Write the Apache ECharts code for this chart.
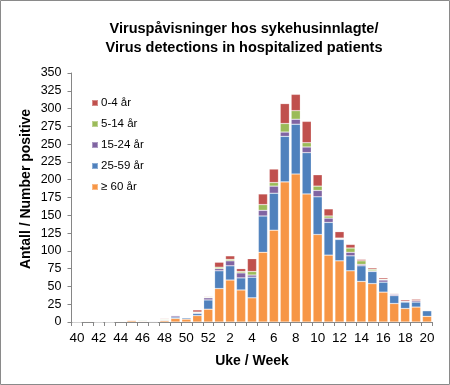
<!DOCTYPE html>
<html><head><meta charset="utf-8">
<script src="https://cdn.jsdelivr.net/npm/echarts@6/dist/echarts.min.js"></script>
<style>html,body{margin:0;padding:0;background:#fff}#c{width:450px;height:385px}</style>
</head><body><div id="c"></div>
<script>
const weeks = ['40','41','42','43','44','45','46','47','48','49','50','51','52','1','2','3','4','5','6','7','8','9','10','11','12','13','14','15','16','17','18','19','20'];
const age60plus = [0,1,0,0,1,2,1,0,2,5,4,9,18,47,59,45,34,98,129,197,208,180,123,94,86,72,57,54,42,26,19,21,8];
const age25_59  = [0,0,0,0,0,0,1,0,1,2,2,3,13,25,20,17,29,51,52,64,70,58,53,46,30,21,22,17,14,11,9,7,8];
const age15_24  = [0,0,0,0,0,0,0,1,0,2,0,1,3,3,7,7,3,8,10,6,7,8,9,6,1,5,2,1,3,2,1,2,0];
const age5_14   = [0,0,0,0,0,0,1,0,1,0,0,1,1,2,2,2,5,8,5,12,12,6,6,3,1,6,5,2,1,0,0,0,0];
const age0_4    = [0,0,0,0,0,1,0,0,1,0,0,3,1,7,5,4,18,15,19,28,23,30,16,10,9,5,2,2,2,1,2,2,0];
const seriesNames = ['≥ 60 år','25-59 år','15-24 år','5-14 år','0-4 år'];
const legendOrder = ['0-4 år','5-14 år','15-24 år','25-59 år','≥ 60 år'];
const colors = ['#F79646','#4F81BD','#8064A2','#9BBB59','#C0504D'];
const data = [age60plus, age25_59, age15_24, age5_14, age0_4];
const FF = 'Liberation Sans, Arial, sans-serif';

const chart = echarts.init(document.getElementById('c'));
chart.setOption({
  animation: false,
  textStyle: {fontFamily: FF},
  graphic: [
    {type:'rect', shape:{x:0.5,y:0.5,width:449,height:384}, style:{fill:'none', stroke:'#8a8a8a', lineWidth:1}, silent:true},
    {type:'text', x: 26, y: 189, rotation: Math.PI/2,
     style:{text:'Antall / Number positive', font:'bold 14px ' + FF, fill:'#000', textAlign:'center', textVerticalAlign:'middle'}, silent:true}
  ],
  title: {
    text: 'Viruspåvisninger hos sykehusinnlagte/\nVirus detections in hospitalized patients',
    left: 239, top: 14, textAlign: 'center',
    textStyle: {fontSize: 14.5, fontWeight: 'bold', color: '#000', lineHeight: 19, fontFamily: FF}
  },
  legend: {
    data: legendOrder, orient: 'vertical', left: 86, top: 91,
    icon: 'rect', itemWidth: 6, itemHeight: 6, itemGap: 7,
    textStyle: {fontSize: 11.5, color: '#000', lineHeight: 14, padding: [0,0,0,-2]}
  },
  grid: {left: 71.5, right: 17.5, top: 73, bottom: 63, containLabel: false},
  xAxis: {
    type: 'category', data: weeks,
    name: 'Uke / Week', nameLocation: 'middle', nameGap: 32,
    nameTextStyle: {fontSize: 14, fontWeight: 'bold', color: '#000'},
    axisLine: {lineStyle: {color: '#868686'}},
    axisTick: {show: true, interval: 0, length: 4, lineStyle: {color: '#868686'}},
    axisLabel: {interval: 1, fontSize: 13.5, color: '#000', margin: 9}
  },
  yAxis: {
    type: 'value', min: 0, max: 350, interval: 25,
    axisLine: {show: true, lineStyle: {color: '#868686'}},
    axisTick: {show: true, length: 4, lineStyle: {color: '#868686'}},
    splitLine: {show: false},
    axisLabel: {fontSize: 12.5, color: '#000', margin: 10}
  },
  series: seriesNames.map((n, i) => ({
    name: n, type: 'bar', stack: 'total', data: data[i],
    barCategoryGap: '16%',
    itemStyle: {color: colors[i], borderColor: 'rgba(255,255,255,0.35)', borderWidth: 0.6}
  }))
});
</script></body></html>
